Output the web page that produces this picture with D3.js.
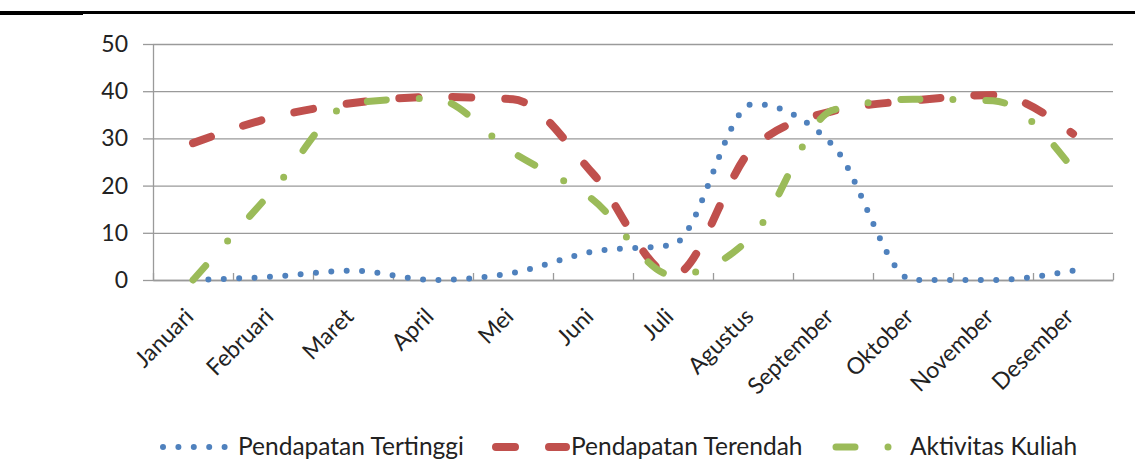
<!DOCTYPE html>
<html>
<head>
<meta charset="utf-8">
<script src="https://cdn.jsdelivr.net/npm/d3@7"></script>
<style>
  body { margin: 0; background: #fff; }
  svg { display: block; font-family: Lato, "Open Sans", sans-serif; }
  .lbl { font-size: 23px; fill: #222; }
  .legendLabel { font-size: 24.5px; fill: #222; }
</style>
</head>
<body>
<svg class="chart" width="1135" height="459"></svg>
<script>
// data
let months = ["Januari", "Februari", "Maret", "April", "Mei", "Juni", "Juli",
              "Agustus", "September", "Oktober", "November", "Desember"];
let tertinggi = [0, 0.7, 2, 0, 1.5, 6, 7.5, 37.3, 28.5, 0, 0, 2];
let terendah  = [29, 34.5, 37.5, 38.8, 38.3, 22.5, 1, 28, 35.8, 38, 39.2, 31];
let kuliah    = [0, 19, 37.5, 38.5, 27, 17, 1, 9.5, 36, 38.3, 38, 23.5];
let yTicks = [0, 10, 20, 30, 40, 50];
let seriesNames = ["Pendapatan Tertinggi", "Pendapatan Terendah", "Aktivitas Kuliah"];

var svg = d3.select(".chart");

// black rule at top
svg.append("rect").attr("x", 0).attr("y", 11).attr("width", 1135).attr("height", 3).attr("fill", "#000");
svg.append("rect").attr("x", 0).attr("y", 11).attr("width", 83).attr("height", 4).attr("fill", "#000");

let margin = {left: 153, top: 44};
let innerWidth = 960;
let innerHeight = 236;

let g = svg.append("g").attr("transform", `translate(${margin.left}, ${margin.top})`);

var xBand = d3.scaleBand().domain(months).range([0, innerWidth]).padding(0);
var xEdge = d3.scaleLinear().domain([0, 12]).range([0, innerWidth]);
var yScale = d3.scaleLinear().domain([0, 50]).range([innerHeight, 0]);
let xc = i => xBand(months[i]) + xBand.bandwidth() / 2;

// gridlines
g.append("g")
 .call(d3.axisLeft(yScale).tickValues(yTicks).tickSize(-innerWidth).tickFormat(""))
 .call(a => a.select(".domain").remove())
 .selectAll("line").attr("stroke", "#9a9a9a").attr("stroke-width", 1.3);

// y axis (ticks only, labels drawn below)
let yAxis = g.append("g")
 .call(d3.axisLeft(yScale).tickValues(yTicks).tickSize(10).tickSizeOuter(0).tickFormat(""));
yAxis.select(".domain").attr("stroke", "#9a9a9a").attr("stroke-width", 1.3);
yAxis.selectAll("line").attr("stroke", "#9a9a9a").attr("stroke-width", 1.3);

g.selectAll(".ylabel")
 .data(yTicks)
 .enter().append("text")
 .attr("class", "lbl")
 .attr("text-anchor", "end")
 .attr("x", -25)
 .attr("y", d => yScale(d) + 8)
 .text(d => d);

// x axis, ticks between categories pointing up
let xAxis = g.append("g")
 .attr("transform", `translate(0, ${innerHeight})`)
 .call(d3.axisBottom(xEdge).ticks(12).tickSize(-7).tickSizeOuter(0).tickFormat(""));
xAxis.select(".domain").attr("stroke", "#9a9a9a").attr("stroke-width", 1.3);
xAxis.selectAll("line").attr("stroke", "#9a9a9a").attr("stroke-width", 1.3);

// rotated month labels
g.selectAll(".month")
 .data(months)
 .enter().append("text")
 .attr("class", "lbl")
 .attr("text-anchor", "end")
 .attr("transform", d => `translate(${xBand(d) + xBand.bandwidth() / 2 + 2}, ${innerHeight + 38}) rotate(-45)`)
 .text(d => d);

let line = d3.line()
  .x((d, i) => xc(i))
  .y(d => yScale(d))
  .curve(d3.curveMonotoneX);

let styles = [
  {data: tertinggi, color: "#4f81bd", width: 6, dash: "0 15.4"},
  {data: terendah,  color: "#c0504d", width: 8, dash: "19 34"},
  {data: kuliah,    color: "#9bbb59", width: 7, dash: "19 33 0 33"}
];

for (let i = 0; i < styles.length; i++) {
  g.append("path")
   .datum(styles[i].data)
   .attr("fill", "none")
   .attr("stroke", styles[i].color)
   .attr("stroke-width", styles[i].width)
   .attr("stroke-linecap", "round")
   .attr("stroke-dasharray", styles[i].dash)
   .attr("d", line);
}

// legend
let legendY = 447;
let legendItems = [
  {x1: 163, x2: 228, tx: 238},
  {x1: 496, x2: 566, tx: 571},
  {x1: 836, x2: 892, tx: 910}
];
for (let i = 0; i < legendItems.length; i++) {
  svg.append("line")
   .attr("x1", legendItems[i].x1).attr("x2", legendItems[i].x2)
   .attr("y1", legendY).attr("y2", legendY)
   .attr("stroke", styles[i].color)
   .attr("stroke-width", styles[i].width)
   .attr("stroke-linecap", "round")
   .attr("stroke-dasharray", styles[i].dash);
  svg.append("text")
   .attr("class", "legendLabel")
   .attr("x", legendItems[i].tx)
   .attr("y", legendY + 8)
   .text(seriesNames[i]);
}
</script>
</body>
</html>
